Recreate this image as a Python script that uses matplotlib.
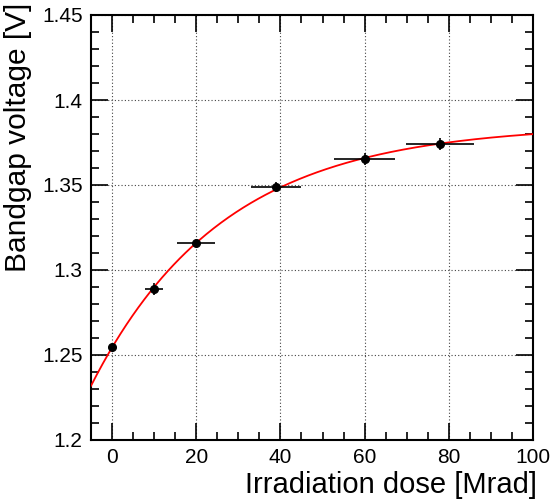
import matplotlib
import numpy as np

matplotlib.use("Agg")
import matplotlib.pyplot as plt  # noqa: E402
from matplotlib.ticker import MultipleLocator, FuncFormatter  # noqa: E402

plt.rcParams["font.family"] = ["Liberation Sans", "DejaVu Sans"]

# measured points
dose = [0.0, 10.0, 20.0, 38.9, 60.0, 78.0]
dose_err = [0.0, 2.1, 4.5, 6.0, 7.3, 8.1]
vbg = [1.2550, 1.2890, 1.3157, 1.3490, 1.3651, 1.3741]
vbg_err = [0.0015, 0.0035, 0.0020, 0.0030, 0.0035, 0.0035]

# saturating exponential fit: a - b * exp(-x / c)
fit_a, fit_b, fit_c = 1.3854, 0.1310, 31.5

fig = plt.figure(figsize=(5.56, 5.04), dpi=100)
ax = fig.add_axes([91 / 556, 1 - 440 / 504, (533 - 91) / 556, (440 - 15) / 504])

xs = np.linspace(-5, 100, 300)
ax.plot(xs, fit_a - fit_b * np.exp(-xs / fit_c), color="red", lw=1.3, zorder=3)
ax.errorbar(dose, vbg, xerr=dose_err, yerr=vbg_err, fmt="o", color="black",
            ms=5.5, elinewidth=1.2, capsize=0, zorder=4)

ax.set_xlim(-5, 100)
ax.set_ylim(1.2, 1.45)
ax.xaxis.set_major_locator(MultipleLocator(20))
ax.xaxis.set_minor_locator(MultipleLocator(5))
ax.yaxis.set_major_locator(MultipleLocator(0.05))
ax.yaxis.set_minor_locator(MultipleLocator(0.01))
ax.yaxis.set_major_formatter(FuncFormatter(lambda v, p: f"{v:.2f}".rstrip("0")))
ax.tick_params(which="both", direction="in", top=True, right=True, width=1.2)
ax.tick_params(which="major", length=12, labelsize=15, pad=6)
ax.tick_params(which="minor", length=6)
ax.grid(True, which="major", ls=(0, (1, 2)), color="#444444", lw=0.8)
for s in ax.spines.values():
    s.set_linewidth(1.5)

ax.set_xlabel("Irradiation dose [Mrad]", fontsize=21, loc="right")
ax.set_ylabel("Bandgap voltage [V]", fontsize=21.5, loc="top")
ax.xaxis.set_label_coords(1.009, -0.074)
ax.yaxis.set_label_coords(-0.133, 1.03)

fig.savefig("out.png", dpi=100)
